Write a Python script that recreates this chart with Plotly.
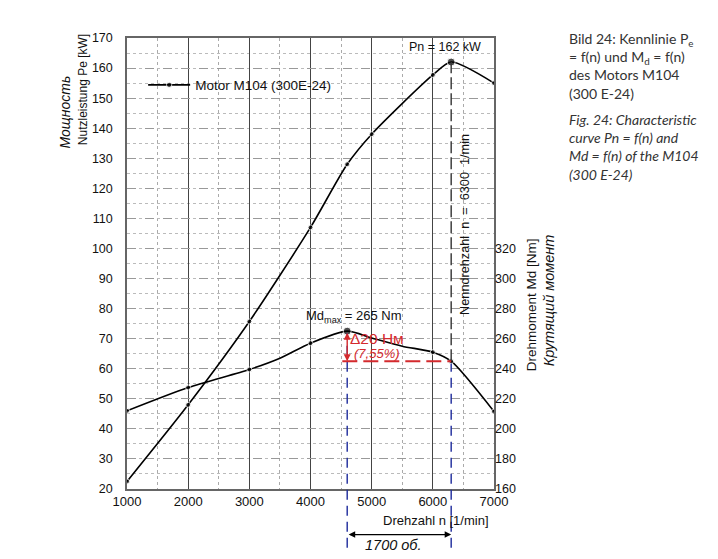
import plotly.graph_objects as go

# ---- data ----
rpm_power = [1000, 2000, 3000, 4000, 4600, 5000, 6000, 6300, 7000]
power_kw = [22.5, 48, 75.7, 107, 128, 138, 157.7, 162, 155]
power_marker = [5, 5, 5, 5, 5, 5, 5, 8, 5]

rpm_torque = [1000, 2000, 3000, 3500, 4000, 4600, 5000, 5500, 6000, 6300, 7000]
torque_nm = [212, 227.5, 239.5, 247, 257, 265, 260.5, 255, 251, 245, 211.5]
torque_marker = [5, 5, 5, 0, 5, 8, 0, 0, 5, 5, 5]

x_ticks = [1000, 2000, 3000, 4000, 5000, 6000, 7000]
y_ticks = list(range(20, 171, 10))
y2_ticks = list(range(160, 321, 20))

rated_rpm = 6300
max_torque_rpm = 4600
max_torque = 265
rated_torque = 245
rated_power = 162

Y_RANGE = [20, 170]
Y2_RANGE = [160, 460]

LABEL_FONT = "Liberation Sans, Arial, sans-serif"
CAPTION_FONT = "Lato, Open Sans, sans-serif"
RED = "#d42a2e"
BLUE = "#1d2b9c"

fig = go.Figure()

fig.add_trace(go.Scatter(
    x=rpm_power, y=power_kw, mode="lines+markers", name="Motor M104 (300E-24)",
    line=dict(color="black", width=1.6, shape="spline", smoothing=0.7),
    marker=dict(color="black", size=power_marker),
    showlegend=True,
))
fig.add_trace(go.Scatter(
    x=rpm_torque, y=torque_nm, mode="lines+markers", yaxis="y2",
    line=dict(color="black", width=1.6, shape="spline", smoothing=0.7),
    marker=dict(color="black", size=torque_marker),
    showlegend=False,
))

def y2_to_paper(v):
    return (v - Y2_RANGE[0]) / (Y2_RANGE[1] - Y2_RANGE[0])

def y2_to_y(v):
    return Y_RANGE[0] + (v - Y2_RANGE[0]) * (Y_RANGE[1] - Y_RANGE[0]) / (Y2_RANGE[1] - Y2_RANGE[0])

shapes = []
# black dash line at rated speed
shapes.append(dict(type="line", xref="x", yref="y", x0=rated_rpm, x1=rated_rpm,
                   y0=y2_to_y(rated_torque), y1=rated_power,
                   line=dict(color="#333", width=1.4, dash="12px,4px")))
# blue dashed vertical lines
for xv, tv in [(max_torque_rpm, max_torque), (rated_rpm, rated_torque)]:
    shapes.append(dict(type="line", xref="x", yref="paper", x0=xv, x1=xv,
                       y0=-0.13, y1=y2_to_paper(tv) - 0.005,
                       line=dict(color=BLUE, width=1.4, dash="10px,6px")))
# red dashed horizontal line
shapes.append(dict(type="line", xref="x", yref="y2", x0=max_torque_rpm - 80, x1=rated_rpm,
                   y0=rated_torque, y1=rated_torque,
                   line=dict(color=RED, width=2, dash="15px,6px")))

annotations = []
def txt(text, x, y, xref="paper", yref="paper", size=12, color="#111", angle=0,
        xanchor="center", yanchor="middle", family=LABEL_FONT, **kw):
    annotations.append(dict(text=text, x=x, y=y, xref=xref, yref=yref, showarrow=False,
                            font=dict(size=size, color=color, family=family),
                            textangle=angle, xanchor=xanchor, yanchor=yanchor, **kw))

txt("Nutzleistung Pe [kW]", -0.119, 0.885, size=12, angle=-90)
txt("<i>Мощность</i>", -0.17, 0.836, size=14, angle=-90)
txt("Drehmoment Md [Nm]", 1.103, 0.409, size=13.5, angle=-90)
txt("<i>Крутящий момент</i>", 1.152, 0.418, size=14.5, angle=-90)
txt(f"Nenndrehzahl  n  =  {rated_rpm}  1/min", rated_rpm, 0.586, xref="x", size=12.7,
    angle=-90, xshift=14)
txt(f"Pn = {rated_power} kW", rated_rpm, rated_power, xref="x", yref="y", size=12.5,
    yanchor="bottom", yshift=6, xshift=-6)
txt(f"Md<sub>max</sub> = {max_torque} Nm", max_torque_rpm, max_torque, xref="x", yref="y2",
    size=13, yanchor="bottom", yshift=4, xshift=7)
txt(f"Δ{max_torque - rated_torque} Нм", max_torque_rpm, 260, xref="x", yref="y2",
    size=15.5, color=RED, xanchor="left", xshift=1)
pct = (max_torque - rated_torque) / max_torque * 100
txt(f"<i>({pct:.2f}%)</i>".replace(".", ","), max_torque_rpm, 250.3, xref="x", yref="y2",
    size=13, color=RED, xanchor="left", xshift=5)
txt("Drehzahl n [1/min]", 0.843, -0.07, size=13)
txt(f"<i>{rated_rpm - max_torque_rpm} об.</i>", (max_torque_rpm + rated_rpm) / 2 - 100, -0.124,
    xref="x", size=14.5)

# red double arrow
annotations.append(dict(x=max_torque_rpm, y=rated_torque, ax=max_torque_rpm, ay=max_torque,
                        xref="x", yref="y2", axref="x", ayref="y2", text="", showarrow=True,
                        arrowhead=2, arrowside="end+start", arrowsize=1, arrowwidth=1.4,
                        arrowcolor=RED, standoff=0, startstandoff=0))
# bottom black double arrow
annotations.append(dict(x=rated_rpm, y=-0.101, ax=max_torque_rpm, ay=0,
                        xref="x", yref="paper", axref="x", ayref="pixel", text="", showarrow=True,
                        arrowhead=2, arrowside="end+start", arrowsize=1, arrowwidth=1.3,
                        arrowcolor="black"))

# caption block
caption = ("Bild 24: Kennlinie P<sub>e</sub><br>= f(n) und M<sub>d</sub> = f(n)<br>"
           "des Motors M104<br>(300 E-24)")
caption_en = ("<i>Fig. 24: Characteristic<br>curve Pn = f(n) and<br>"
              "Md = f(n) of the M104<br>(300 E-24)</i>")
annotations.append(dict(text=caption, x=1.198, y=1.022, xref="paper", yref="paper",
                        showarrow=False, xanchor="left", yanchor="top", align="left",
                        font=dict(size=14, color="#333", family=CAPTION_FONT)))
annotations.append(dict(text=caption_en, x=1.198, y=0.843, xref="paper", yref="paper",
                        showarrow=False, xanchor="left", yanchor="top", align="left",
                        font=dict(size=14, color="#333", family=CAPTION_FONT)))

fig.update_layout(
    width=718, height=559,
    margin=dict(l=127, r=224, t=38, b=70),
    paper_bgcolor="white", plot_bgcolor="white",
    font=dict(family=LABEL_FONT, size=12, color="#111"),
    shapes=shapes, annotations=annotations,
    legend=dict(x=0.044, y=0.93, xanchor="left", yanchor="top", bgcolor="rgba(0,0,0,0)",
                font=dict(size=13.5), itemwidth=42),
    xaxis=dict(range=[1000, 7000], tickvals=x_ticks, showline=True, mirror=True,
               linecolor="#666", linewidth=1.5, gridcolor="#444", gridwidth=1,
               ticks="", tickfont=dict(size=13), zeroline=False,
               minor=dict(dtick=500, showgrid=True, gridcolor="#aaa", griddash="dot")),
    yaxis=dict(range=Y_RANGE, tickvals=y_ticks, showline=True, mirror=True,
               linecolor="#666", linewidth=1.5, gridcolor="#999", griddash="dash",
               gridwidth=0.8, ticks="", ticklabelstandoff=10, tickfont=dict(size=12.5),
               zeroline=False,
               minor=dict(dtick=5, showgrid=True, gridcolor="#bbb", griddash="dot")),
    yaxis2=dict(range=Y2_RANGE, tickvals=y2_ticks, overlaying="y", side="right",
                showgrid=False, showline=False, ticks="", tickfont=dict(size=12.5),
                zeroline=False),
)

fig.write_html("out.html")
